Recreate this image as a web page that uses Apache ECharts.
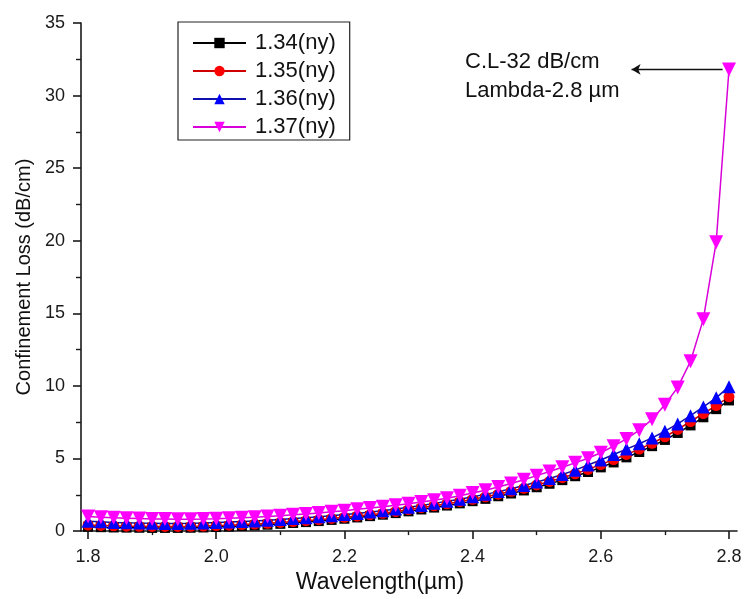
<!DOCTYPE html>
<html>
<head>
<meta charset="utf-8">
<script src="https://cdn.jsdelivr.net/npm/echarts@6/dist/echarts.min.js"></script>
<style>html,body{margin:0;padding:0;background:#fff;}#c{width:745px;height:599px;}</style>
</head>
<body>
<div id="c"></div>
<script>
var wavelength = [1.80,1.82,1.84,1.86,1.88,1.90,1.92,1.94,1.96,1.98,2.00,
  2.02,2.04,2.06,2.08,2.10,2.12,2.14,2.16,2.18,2.20,
  2.22,2.24,2.26,2.28,2.30,2.32,2.34,2.36,2.38,2.40,
  2.42,2.44,2.46,2.48,2.50,2.52,2.54,2.56,2.58,2.60,
  2.62,2.64,2.66,2.68,2.70,2.72,2.74,2.76,2.78,2.80];

var ny134 = [0.30,0.27,0.25,0.24,0.23,0.22,0.22,0.22,0.23,0.25,0.28,
  0.31,0.35,0.39,0.44,0.50,0.56,0.62,0.69,0.77,0.85,
  0.94,1.03,1.13,1.24,1.36,1.49,1.62,1.76,1.91,2.06,
  2.22,2.40,2.59,2.80,3.02,3.26,3.51,3.78,4.07,4.39,
  4.73,5.08,5.45,5.85,6.28,6.76,7.28,7.84,8.40,9.00];

var ny135 = [0.42,0.39,0.36,0.34,0.33,0.32,0.32,0.32,0.33,0.35,0.38,
  0.41,0.45,0.49,0.54,0.60,0.66,0.72,0.79,0.87,0.95,
  1.04,1.13,1.23,1.35,1.48,1.61,1.74,1.88,2.03,2.19,
  2.36,2.54,2.74,2.95,3.18,3.42,3.68,3.95,4.25,4.58,
  4.93,5.28,5.65,6.05,6.50,7.00,7.55,8.10,8.65,9.25];

var ny136 = [0.68,0.64,0.60,0.57,0.55,0.54,0.53,0.53,0.54,0.56,0.59,
  0.62,0.66,0.70,0.75,0.80,0.86,0.92,0.99,1.06,1.14,
  1.22,1.31,1.41,1.52,1.64,1.77,1.91,2.05,2.20,2.36,
  2.53,2.72,2.92,3.14,3.38,3.62,3.90,4.20,4.55,4.90,
  5.28,5.65,6.02,6.42,6.88,7.38,7.95,8.55,9.18,9.95];

var ny137 = [1.00,0.96,0.92,0.89,0.86,0.84,0.83,0.82,0.82,0.83,0.85,
  0.88,0.92,0.96,1.01,1.06,1.12,1.18,1.25,1.33,1.41,
  1.50,1.59,1.68,1.78,1.88,2.00,2.13,2.27,2.44,2.62,
  2.82,3.04,3.28,3.54,3.82,4.10,4.40,4.70,5.02,5.40,
  5.85,6.35,6.95,7.70,8.70,9.90,11.70,14.60,19.90,31.80];

var seriesNames = ['1.34(ny)','1.35(ny)','1.36(ny)','1.37(ny)'];
var xMajorTicks = [1.8,2.0,2.2,2.4,2.6,2.8];
var xMinorTicks = [1.9,2.1,2.3,2.5,2.7];
var annotationLines = ['C.L-32 dB/cm','Lambda-2.8 µm'];
var arrowFrom = [2.79, 31.8];
var arrowTo = [2.648, 31.8];

function pairs(ys){ return wavelength.map(function(x,i){ return [x, ys[i]]; }); }

var FONT = 'Liberation Sans, Arial, sans-serif';
var chart = echarts.init(document.getElementById('c'), null, {renderer:'canvas'});

var axisColor = '#1a1a1a';
var option = {
  animation: false,
  backgroundColor: '#ffffff',
  grid: {left: 81, right: 8, top: 23, bottom: 65},
  legend: {
    left: 178, top: 22, orient: 'vertical',
    data: seriesNames,
    itemWidth: 53, itemHeight: 13, itemGap: 6,
    padding: [10, 14, 2, 14],
    borderColor: '#222', borderWidth: 1.2,
    textStyle: {fontFamily: FONT, fontSize: 22, color: '#111', lineHeight: 20, padding: [0,0,0,4]}
  },
  xAxis: [{
    type: 'value', min: 1.789, max: 2.8125,
    axisLine: {show: true, lineStyle: {color: axisColor, width: 1.6}},
    axisTick: {show: true, customValues: xMajorTicks, length: 8, lineStyle: {color: axisColor, width: 1.6}},
    axisLabel: {customValues: xMajorTicks, fontFamily: FONT, fontSize: 18, color: '#1a1a1a', margin: 17,
      formatter: function(v){ return v.toFixed(1); }},
    splitLine: {show: false},
    name: 'Wavelength(µm)', nameLocation: 'middle', nameGap: 36,
    nameTextStyle: {fontFamily: FONT, fontSize: 23, color: '#111', padding: [0, 58, 0, 0]}
  }, {
    type: 'value', min: 1.789, max: 2.8125, position: 'bottom',
    axisLine: {show: false},
    axisTick: {show: true, customValues: xMinorTicks, length: 4, lineStyle: {color: axisColor, width: 1.4}},
    axisLabel: {show: false},
    splitLine: {show: false}
  }],
  yAxis: {
    type: 'value', min: 0, max: 35, interval: 5,
    axisLine: {show: true, lineStyle: {color: axisColor, width: 1.6}},
    axisTick: {show: true, length: 8, lineStyle: {color: axisColor, width: 1.6}},
    minorTick: {show: true, splitNumber: 2, length: 5, lineStyle: {color: axisColor, width: 1.4}},
    axisLabel: {fontFamily: FONT, fontSize: 18, color: '#1a1a1a', margin: 16},
    splitLine: {show: false},
    name: 'Confinement Loss (dB/cm)', nameLocation: 'middle', nameGap: 34,
    nameTextStyle: {fontFamily: FONT, fontSize: 20, color: '#111'}
  },
  series: [
    {name: seriesNames[0], type: 'line', data: pairs(ny134), symbol: 'rect', symbolSize: 10,
      itemStyle: {color: '#000000'}, lineStyle: {color: '#000000', width: 1.5}},
    {name: seriesNames[1], type: 'line', data: pairs(ny135), symbol: 'circle', symbolSize: 11,
      itemStyle: {color: '#ff0000'}, lineStyle: {color: '#d00000', width: 1.5}},
    {name: seriesNames[2], type: 'line', data: pairs(ny136), symbol: 'triangle', symbolSize: 13,
      itemStyle: {color: '#0000ff'}, lineStyle: {color: '#1010b0', width: 1.5}},
    {name: seriesNames[3], type: 'line', data: pairs(ny137), symbol: 'triangle', symbolRotate: 180, symbolSize: 14,
      itemStyle: {color: '#ff00ff'}, lineStyle: {color: '#d800d8', width: 1.5},
      markLine: {
        silent: true, symbol: ['none', 'arrow'], symbolSize: [8, 9],
        label: {show: false},
        lineStyle: {color: '#111', width: 1.3, type: 'solid'},
        data: [[{coord: arrowFrom}, {coord: arrowTo}]]
      }}
  ],
  graphic: [{
    type: 'text', left: 465, top: 47,
    style: {text: annotationLines.join('\n'), fontFamily: FONT, fontSize: 22, lineHeight: 29, fill: '#111'}
  }]
};
chart.setOption(option);
</script>
</body>
</html>
